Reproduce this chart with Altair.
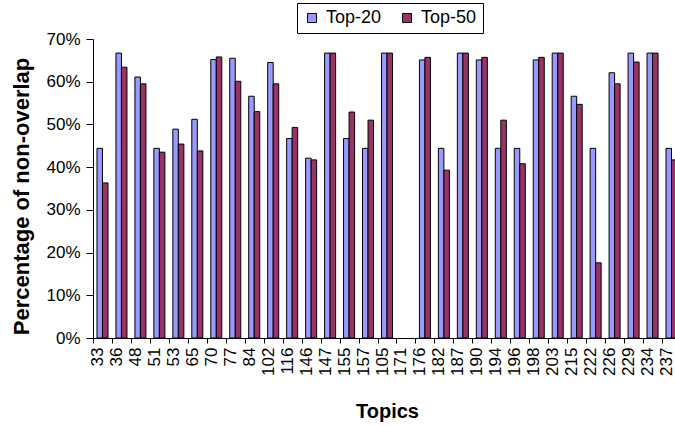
import altair as alt
import pandas as pd

# Topic ids in display order along the x axis
topics = ["33", "36", "48", "51", "53", "65", "70", "77", "84", "102", "116",
          "146", "147", "155", "157", "105", "171", "176", "182", "187", "190",
          "194", "196", "198", "203", "215", "222", "226", "229", "234", "237"]

# Percentage of non-overlap per topic
top20 = [44.4, 66.7, 61.1, 44.4, 48.9, 51.2, 65.2, 65.5, 56.6, 64.5, 46.7,
         42.1, 66.7, 46.7, 44.4, 66.7, 0.0, 65.1, 44.4, 66.7, 65.1,
         44.4, 44.4, 65.1, 66.7, 56.6, 44.4, 62.1, 66.7, 66.7, 44.4]
top50 = [36.3, 63.4, 59.5, 43.5, 45.4, 43.8, 65.8, 60.1, 53.0, 59.5, 49.3,
         41.7, 66.7, 52.9, 51.0, 66.7, 0.0, 65.7, 39.3, 66.7, 65.7,
         51.0, 40.8, 65.7, 66.7, 54.7, 17.6, 59.5, 64.6, 66.7, 41.7]

series = ["Top-20", "Top-50"]
colors = ["#9999FF", "#993366"]
y_ticks = [0, 0.1, 0.2, 0.3, 0.4, 0.5, 0.6, 0.7]

rows = []
for t, a, b in zip(topics, top20, top50):
    rows.append({"topic": t, "series": series[0], "value": a / 100})
    rows.append({"topic": t, "series": series[1], "value": b / 100})
df = pd.DataFrame(rows)

FONT = "Liberation Sans"

chart = alt.Chart(df).transform_filter(
    "datum.value > 0"
).mark_bar(stroke="#000000", strokeWidth=1).encode(
    x=alt.X(
        "topic:N",
        sort=topics,
        scale=alt.Scale(domain=topics, paddingInner=0, paddingOuter=0),
        axis=alt.Axis(
            title="Topics",
            titleFont=FONT, titleFontSize=20, titleFontWeight="bold",
            titleColor="#000000", titleBaseline="alphabetic", titleY=79,
            labelAngle=-90, labelFont=FONT, labelFontSize=17,
            labelColor="#000000", labelPadding=4, labelOffset=-5,
            tickBand="extent", tickSize=5, tickColor="#000000",
            domainColor="#000000", labelOverlap=False,
        ),
    ),
    xOffset=alt.XOffset(
        "series:N",
        sort=series,
        scale=alt.Scale(domain=series, paddingInner=0, paddingOuter=0.72),
    ),
    y=alt.Y(
        "value:Q",
        scale=alt.Scale(domain=[0, 0.7], nice=False),
        axis=alt.Axis(
            title="Percentage of non-overlap",
            titleFont=FONT, titleFontSize=22, titleFontWeight="bold",
            titleColor="#000000", titleBaseline="alphabetic",
            titleAngle=270, titleX=-65, titleY=157, titleAlign="center",
            values=y_ticks, format=".0%",
            labelFont=FONT, labelFontSize=17, labelColor="#000000",
            labelPadding=6, tickSize=7, tickColor="#000000",
            domainColor="#000000", grid=False,
        ),
    ),
    color=alt.Color(
        "series:N",
        scale=alt.Scale(domain=series, range=colors),
        legend=alt.Legend(
            title=None, orient="none", direction="horizontal",
            legendX=204, legendY=-36,
            padding=6, strokeColor="#000000", fillColor="#FFFFFF",
            symbolType="square", symbolSize=81,
            symbolStrokeColor="#000000", symbolStrokeWidth=1,
            labelFont=FONT, labelFontSize=18, labelColor="#000000",
            labelOffset=5, columnPadding=16,
        ),
    ),
).properties(
    width=588,
    height=299,
    autosize="none",
    padding={"left": 93, "top": 39, "right": -6, "bottom": 88},
    background="#FFFFFF",
).configure_view(stroke=None)

chart.save("out.html", embed_options={"renderer": "svg", "actions": False})
